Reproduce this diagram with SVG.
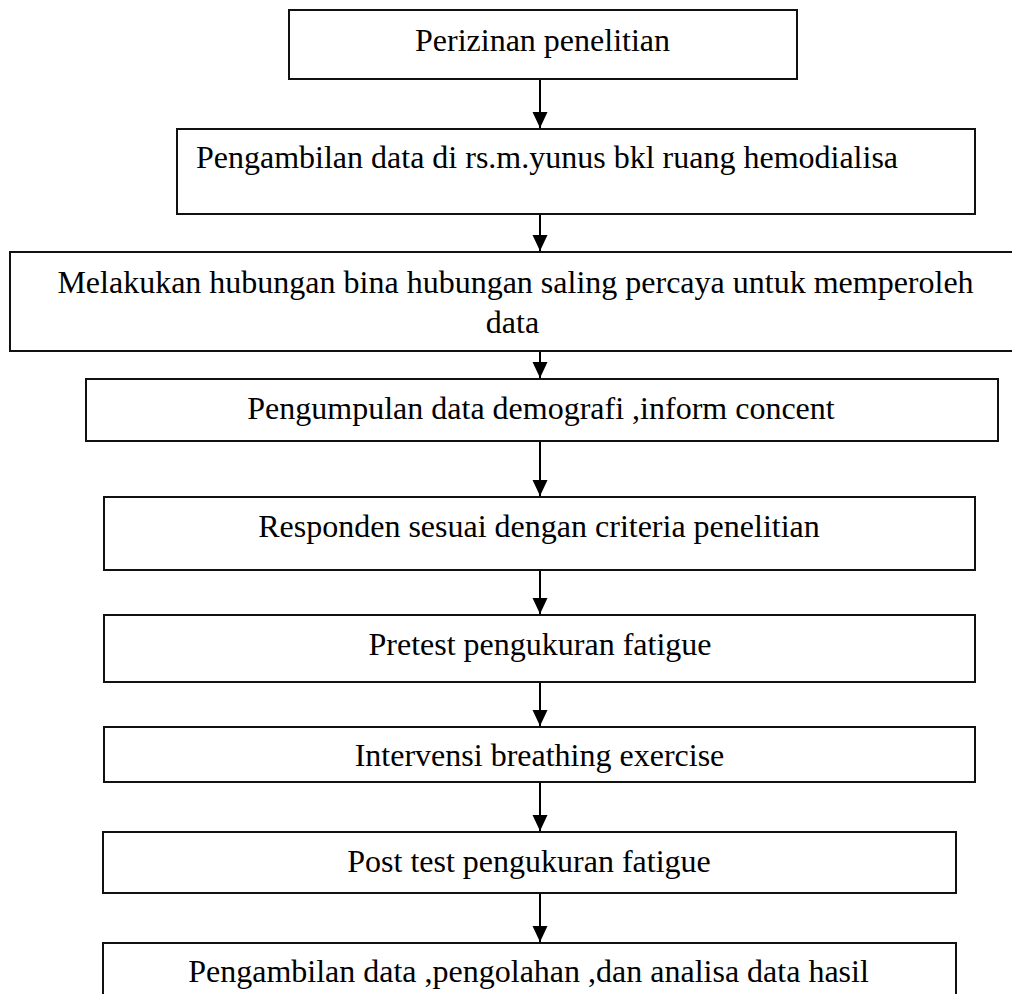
<svg xmlns="http://www.w3.org/2000/svg" width="1012" height="994" viewBox="0 0 1012 994">
  <style>
    .box { fill: #ffffff; stroke: #111111; stroke-width: 2; }
    .lbl { font-family: "Liberation Serif", "Times New Roman", serif; font-size: 32px; fill: #000000; text-anchor: middle; }
    .conn { stroke: #000000; stroke-width: 2; fill: none; marker-end: url(#arrow); }
  </style>
  <defs>
    <marker id="arrow" viewBox="0 0 16 16" refX="16" refY="8" markerWidth="16" markerHeight="16" markerUnits="userSpaceOnUse" orient="auto">
      <path d="M0,0.5 L16,8 L0,15.5 Z" fill="#000000"/>
    </marker>
  </defs>
  <rect width="1012" height="994" fill="#ffffff"/>
  <g id="connectors">
    <line class="conn" x1="540" y1="79" x2="540" y2="128"/>
    <line class="conn" x1="540" y1="214" x2="540" y2="251"/>
    <line class="conn" x1="540" y1="351" x2="540" y2="378"/>
    <line class="conn" x1="540" y1="441" x2="540" y2="496"/>
    <line class="conn" x1="540" y1="570" x2="540" y2="614"/>
    <line class="conn" x1="540" y1="682" x2="540" y2="726"/>
    <line class="conn" x1="540" y1="782" x2="540" y2="831"/>
    <line class="conn" x1="540" y1="893" x2="540" y2="942"/>
  </g>
  <g id="n1">
    <rect class="box" x="289" y="10" width="508" height="69"/>
    <text class="lbl" x="542.5" y="51">Perizinan penelitian</text>
  </g>
  <g id="n2">
    <rect class="box" x="177" y="129" width="798" height="85"/>
    <text class="lbl" x="547" y="168">Pengambilan data di rs.m.yunus bkl ruang hemodialisa</text>
  </g>
  <g id="n3">
    <rect class="box" x="10" y="252" width="1012" height="99"/>
    <text class="lbl" x="515.5" y="293">Melakukan hubungan bina hubungan saling percaya untuk memperoleh</text>
    <text class="lbl" x="512.5" y="333">data</text>
  </g>
  <g id="n4">
    <rect class="box" x="86" y="379" width="912" height="62"/>
    <text class="lbl" x="541" y="419">Pengumpulan data demografi ,inform concent</text>
  </g>
  <g id="n5">
    <rect class="box" x="104" y="497" width="871" height="73"/>
    <text class="lbl" x="539" y="537">Responden sesuai dengan criteria penelitian</text>
  </g>
  <g id="n6">
    <rect class="box" x="104" y="615" width="871" height="67"/>
    <text class="lbl" x="540" y="655">Pretest pengukuran fatigue</text>
  </g>
  <g id="n7">
    <rect class="box" x="104" y="727" width="871" height="55"/>
    <text class="lbl" x="539.5" y="766">Intervensi breathing exercise</text>
  </g>
  <g id="n8">
    <rect class="box" x="103" y="832" width="853" height="61"/>
    <text class="lbl" x="529" y="872">Post test pengukuran fatigue</text>
  </g>
  <g id="n9">
    <rect class="box" x="103" y="943" width="853" height="60"/>
    <text class="lbl" x="528.5" y="982">Pengambilan data ,pengolahan ,dan analisa data hasil</text>
  </g>
</svg>
